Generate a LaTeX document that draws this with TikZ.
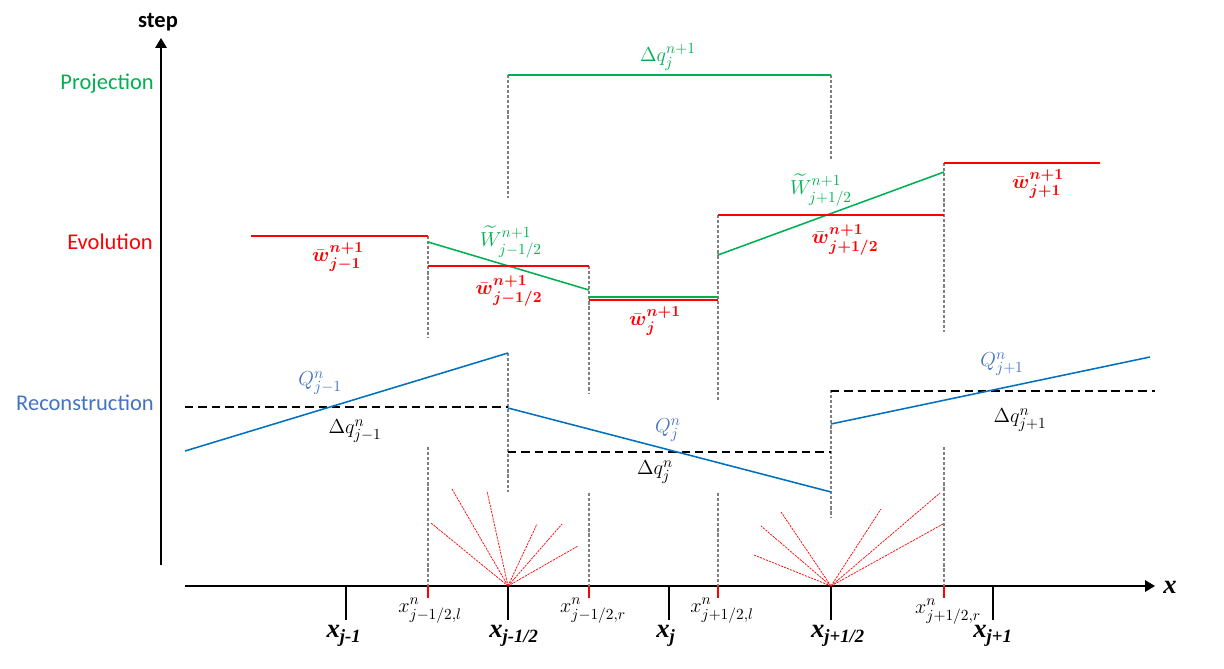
\documentclass[tikz,border=0pt]{standalone}
\usepackage{amsmath,amssymb}
\usepackage{fontspec}
\setmainfont{Carlito}
\newfontfamily\xserif{Liberation Serif}
\usepackage{xcolor}
\usepackage{tikz}
\usetikzlibrary{arrows.meta}
\definecolor{projgreen}{RGB}{0,176,80}
\definecolor{recblue}{RGB}{0,112,192}
\definecolor{lblblue}{RGB}{68,114,196}

\begin{document}
\begin{tikzpicture}[line join=round,
  axis/.style={line width=1.4pt},
  tipv/.style={-{Triangle[length=7pt,width=8pt]}},
  guide/.style={gray,dash pattern=on 2.2pt off 1.4pt,line width=0.8pt},
  evo/.style={red,line width=1.3pt},
  proj/.style={projgreen,line width=1.1pt},
  recon/.style={recblue,line width=1.1pt},
  avg/.style={black,dash pattern=on 6pt off 3.5pt,line width=1.1pt},
  fan/.style={red,dash pattern=on 1.6pt off 0.7pt,line width=0.5pt},
  rtick/.style={red,line width=1pt},
  stage/.style={font=\fontsize{16}{19}\selectfont,anchor=east,inner sep=0pt},
  lab/.style={font=\fontsize{15.5}{18}\selectfont,inner sep=0pt},
  xlab/.style={font=\fontsize{19}{22}\selectfont\xserif\bfseries\itshape,inner sep=0pt},
  slab/.style={font=\fontsize{15}{17}\selectfont,inner sep=0pt}]
  \useasboundingbox (-4.025,-2.050) rectangle (26.575,14.650);
  % axes
  \coordinate (S0) at (0.000,0.525);
  \coordinate (S1) at (0.000,13.700);
  \coordinate (A0) at (0.600,0.000);
  \coordinate (A1) at (24.850,0.000);
  \draw[axis,tipv] (S0) -- (S1);
  \draw[axis,tipv] (A0) -- (A1);
  \node[font=\fontsize{16}{19}\selectfont\bfseries,inner sep=0pt] (step) at (-0.075,14.100) {step};
  \node[xlab] (xaxis) at (25.225,-0.025) {x};
  % cell centres and interfaces
  \coordinate (C0) at (4.625,0.000);
  \coordinate (C1) at (8.675,0.000);
  \coordinate (C2) at (12.700,0.000);
  \coordinate (C3) at (16.750,0.000);
  \coordinate (C4) at (20.800,0.000);
  \coordinate (C0b) at (4.625,-0.850);
  \coordinate (C1b) at (8.675,-0.850);
  \coordinate (C2b) at (12.700,-0.850);
  \coordinate (C3b) at (16.750,-0.850);
  \coordinate (C4b) at (20.800,-0.850);
  \draw[axis] (C0) -- (C0b);
  \draw[axis] (C1) -- (C1b);
  \draw[axis] (C2) -- (C2b);
  \draw[axis] (C3) -- (C3b);
  \draw[axis] (C4) -- (C4b);
  % local speeds
  \coordinate (R0) at (6.675,0.000);
  \coordinate (R1) at (10.700,0.000);
  \coordinate (R2) at (13.925,0.000);
  \coordinate (R3) at (19.575,0.000);
  \coordinate (R0b) at (6.675,-0.300);
  \coordinate (R1b) at (10.700,-0.300);
  \coordinate (R2b) at (13.925,-0.300);
  \coordinate (R3b) at (19.575,-0.300);
  \draw[rtick] (R0) -- (R0b);
  \draw[rtick] (R1) -- (R1b);
  \draw[rtick] (R2) -- (R2b);
  \draw[rtick] (R3) -- (R3b);
  % guides
  \coordinate (P1) at (8.675,12.775);
  \coordinate (P2) at (16.750,12.775);
  \coordinate (V1) at (8.675,9.700);
  \coordinate (V2) at (16.750,10.625);
  \coordinate (V3a) at (6.675,8.750);
  \coordinate (V3b) at (6.675,6.200);
  \coordinate (V4a) at (10.700,8.000);
  \coordinate (V4b) at (10.700,4.825);
  \coordinate (V5a) at (13.925,9.275);
  \coordinate (V5b) at (13.925,4.650);
  \coordinate (V6a) at (19.575,10.575);
  \coordinate (V6b) at (19.575,6.350);
  \coordinate (V7a) at (8.675,5.825);
  \coordinate (V7b) at (8.675,2.350);
  \coordinate (V8a) at (16.750,4.900);
  \coordinate (V8b) at (16.750,1.725);
  \coordinate (V9) at (6.675,3.475);
  \coordinate (V10) at (10.700,2.325);
  \coordinate (V11) at (13.925,2.325);
  \coordinate (V12) at (19.575,3.475);
  \draw[guide] (P1) -- (V1);
  \draw[guide] (P2) -- (V2);
  \draw[guide] (V3a) -- (V3b);
  \draw[guide] (V4a) -- (V4b);
  \draw[guide] (V5a) -- (V5b);
  \draw[guide] (V6a) -- (V6b);
  \draw[guide] (V7a) -- (V7b);
  \draw[guide] (V8a) -- (V8b);
  \draw[guide] (V9) -- (R0);
  \draw[guide] (V10) -- (R1);
  \draw[guide] (V11) -- (R2);
  \draw[guide] (V12) -- (R3);
  % reconstruction
  \coordinate (D0a) at (0.600,4.475);
  \coordinate (D0b) at (8.675,4.475);
  \coordinate (D1a) at (8.675,3.350);
  \coordinate (D1b) at (16.750,3.350);
  \coordinate (D2a) at (16.750,4.875);
  \coordinate (D2b) at (24.850,4.875);
  \draw[avg] (D0a) -- (D0b);
  \draw[avg] (D1a) -- (D1b);
  \draw[avg] (D2a) -- (D2b);
  \coordinate (Q0a) at (0.600,3.375);
  \coordinate (Q0b) at (8.675,5.825);
  \coordinate (Q1a) at (8.675,4.450);
  \coordinate (Q1b) at (16.750,2.350);
  \coordinate (Q2a) at (16.750,4.050);
  \coordinate (Q2b) at (24.725,5.725);
  \draw[recon] (Q0a) -- (Q0b);
  \draw[recon] (Q1a) -- (Q1b);
  \draw[recon] (Q2a) -- (Q2b);
  % evolution
  \coordinate (G1a) at (6.675,8.600);
  \coordinate (G1b) at (10.700,7.400);
  \coordinate (G2a) at (10.700,7.225);
  \coordinate (G2b) at (13.925,7.225);
  \coordinate (G3a) at (13.925,8.275);
  \coordinate (G3b) at (19.575,10.350);
  \draw[proj] (G1a) -- (G1b);
  \draw[proj] (G2a) -- (G2b);
  \draw[proj] (G3a) -- (G3b);
  \coordinate (E0a) at (2.250,8.750);
  \coordinate (E1a) at (6.675,8.000);
  \coordinate (E2a) at (10.700,7.150);
  \coordinate (E2b) at (13.925,7.150);
  \coordinate (E3b) at (19.575,9.275);
  \coordinate (E4b) at (23.475,10.575);
  \draw[evo] (E0a) -- (V3a);
  \draw[evo] (E1a) -- (V4a);
  \draw[evo] (E2a) -- (E2b);
  \draw[evo] (V5a) -- (E3b);
  \draw[evo] (V6a) -- (E4b);
  % projection
  \draw[proj] (P1) -- (P2);
  % fans
  \coordinate (F1a) at (6.750,1.575);
  \coordinate (F1b) at (7.275,2.425);
  \coordinate (F1c) at (8.150,2.375);
  \coordinate (F1d) at (9.400,1.550);
  \coordinate (F1e) at (10.025,1.550);
  \coordinate (F1f) at (10.425,1.000);
  \coordinate (F2a) at (14.825,0.775);
  \coordinate (F2b) at (15.000,1.500);
  \coordinate (F2c) at (15.500,1.850);
  \coordinate (F2d) at (18.000,1.925);
  \coordinate (F2e) at (19.475,2.325);
  \coordinate (F2f) at (19.550,1.550);
  \draw[fan] (C1) -- (F1a);
  \draw[fan] (C1) -- (F1b);
  \draw[fan] (C1) -- (F1c);
  \draw[fan] (C1) -- (F1d);
  \draw[fan] (C1) -- (F1e);
  \draw[fan] (C1) -- (F1f);
  \draw[fan] (C3) -- (F2a);
  \draw[fan] (C3) -- (F2b);
  \draw[fan] (C3) -- (F2c);
  \draw[fan] (C3) -- (F2d);
  \draw[fan] (C3) -- (F2e);
  \draw[fan] (C3) -- (F2f);
  % stage names
  \node[stage,projgreen] (projection) at (-0.175,12.550) {Projection};
  \node[stage,red] (evolution) at (-0.200,8.600) {Evolution};
  \node[stage,lblblue] (reconstruction) at (-0.175,4.575) {Reconstruction};
  % labels
  \node[lab,projgreen] (dqp) at (12.675,13.225) {$\Delta q_j^{n+1}$};
  \node[lab,red] (wjm) at (4.425,8.225) {$\bar{\boldsymbol{w}}^{\boldsymbol{n+1}}_{\boldsymbol{j-1}}$};
  \node[lab,projgreen] (Wjmh) at (8.750,8.600) {$\widetilde{W}^{n+1}_{j-1/2}$};
  \node[lab,red] (wjmh) at (8.700,7.375) {$\bar{\boldsymbol{w}}^{\boldsymbol{n+1}}_{\boldsymbol{j-1/2}}$};
  \node[lab,red] (wj) at (12.350,6.625) {$\bar{\boldsymbol{w}}^{\boldsymbol{n+1}}_{\boldsymbol{j}}$};
  \node[lab,projgreen] (Wjph) at (16.500,9.900) {$\widetilde{W}^{n+1}_{j+1/2}$};
  \node[lab,red] (wjph) at (17.100,8.650) {$\bar{\boldsymbol{w}}^{\boldsymbol{n+1}}_{\boldsymbol{j+1/2}}$};
  \node[lab,red] (wjp) at (21.925,10.050) {$\bar{\boldsymbol{w}}^{\boldsymbol{n+1}}_{\boldsymbol{j+1}}$};
  \node[lab,lblblue] (Qjm) at (3.975,5.075) {$Q^n_{j-1}$};
  \node[lab] (dqjm) at (4.850,3.875) {$\Delta q^n_{j-1}$};
  \node[lab,lblblue] (Qj) at (12.675,3.900) {$Q^n_j$};
  \node[lab] (dqj) at (12.350,2.850) {$\Delta q^n_j$};
  \node[lab,lblblue] (Qjp) at (21.025,5.550) {$Q^n_{j+1}$};
  \node[lab] (dqjp) at (21.475,4.150) {$\Delta q^n_{j+1}$};
  % axis labels
  \node[xlab] (xjm) at (4.575,-1.250) {x\textsubscript{j-1}};
  \node[xlab] (xjmh) at (8.825,-1.250) {x\textsubscript{j-1/2}};
  \node[xlab] (xj) at (12.625,-1.250) {x\textsubscript{j}};
  \node[xlab] (xjph) at (16.925,-1.250) {x\textsubscript{j+1/2}};
  \node[xlab] (xjp) at (20.800,-1.250) {x\textsubscript{j+1}};
  \node[slab] (xl0) at (6.725,-0.625) {$x^n_{j-1/2,l}$};
  \node[slab] (xr0) at (10.800,-0.625) {$x^n_{j-1/2,r}$};
  \node[slab] (xl1) at (14.025,-0.625) {$x^n_{j+1/2,l}$};
  \node[slab] (xr1) at (19.675,-0.650) {$x^n_{j+1/2,r}$};
\end{tikzpicture}
\end{document}
